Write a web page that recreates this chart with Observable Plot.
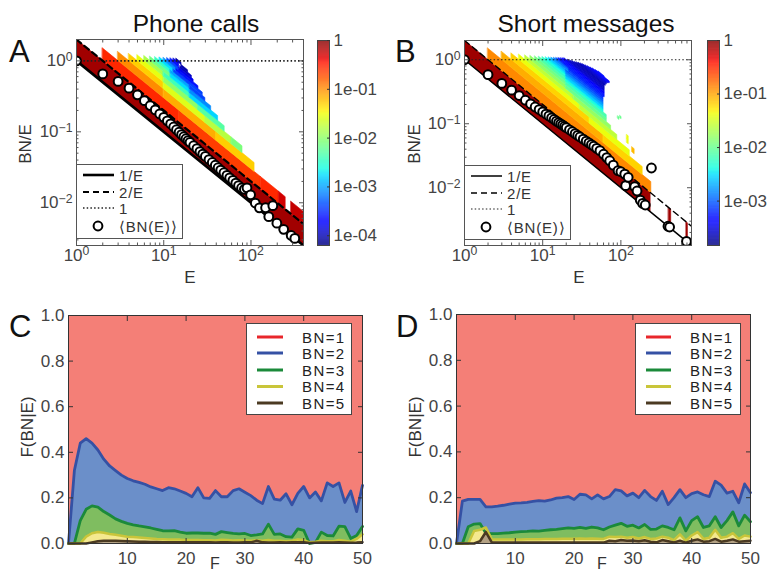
<!DOCTYPE html>
<html><head><meta charset="utf-8">
<script src="https://cdn.jsdelivr.net/npm/d3@7"></script>
<script src="https://cdn.jsdelivr.net/npm/@observablehq/plot@0.6"></script>
<style>
body{margin:0;background:#fff;}
#root{position:relative;width:767px;height:574px;overflow:hidden;background:#fff;font-family:"Liberation Sans",Arial,sans-serif;}
</style></head>
<body><div id="root"></div>
<script>
// ---------------- DATA ----------------
// Panel A (phone calls): heat-map cells, one row per band segment: BN level, E start, E end, log10 P(BN|E)
const phoneSegBN   = [1, 2,2,2,2,2, 3,3,3, 4,4,4,4, 5,5,5, 6,6,6, 7,7,7, 8,8,8, 9,9, 10,10, 11,11, 12,12, 13,13, 14];
const phoneSegE0   = [1, 2,15,130,210,290, 3,10,40, 4,10,30,60, 5,10,25, 6,10,20, 7,12,20, 8,12,20, 9,13, 10,14, 11,15, 12,15.5, 13,16, 14];
const phoneSegE1   = [400, 15,130,210,250,400, 10,40,110, 10,30,60,80, 10,25,50, 10,20,42, 12,20,35, 12,20,30, 13,28, 14,25, 15,22, 15,21, 15,19, 16];
const phoneSegLogP = [-0.12, -0.55,-0.65,-0.55,-0.3,-0.25, -1.0,-1.15,-1.3, -1.3,-1.6,-1.8,-2.1, -1.55,-2.0,-2.3, -1.85,-2.4,-2.8, -2.15,-2.75,-3.1, -2.45,-3.0,-3.4, -2.75,-3.4, -3.05,-3.6, -3.35,-3.8, -3.6,-3.95, -3.85,-4.05, -4.05];
// Panel A mean BN per E
const phoneMeanE  = [1,2,3,4,5,6,7,8,9,10,11,12,13,14,15,16,17,18,19,20,22,24,26,28,30,33,36,39,42,45,49,53,57,62,67,72,78,84,90,99,112,125,147,160,178,198,237,289,318];
const phoneMeanBN = [1,1.31,1.54,1.65,1.66,1.65,1.64,1.63,1.61,1.6,1.57,1.55,1.52,1.5,1.48,1.46,1.45,1.44,1.43,1.42,1.4,1.39,1.37,1.36,1.35,1.34,1.33,1.32,1.31,1.3,1.3,1.29,1.28,1.28,1.27,1.26,1.26,1.3,1.46,1.28,1.11,1.06,1.25,1.02,1.62,1.02,1.0,1.0,1.0];

// Panel B (short messages)
const smsSegBN   = [1,1,1, 2, 3,3, 4,4, 5,5,5, 6,6,6, 7,7,7, 8,8, 9,9, 10,10, 11,11,11, 12,12,12, 13,13, 14,14, 15,15, 16,17,18,19,20,21,22,23,24,25,26,27,28,29,30,31,32,33];
const smsSegE0   = [1,410,690, 2, 3,60, 4,40, 5,30,140, 6,25,120, 7,20,120, 8,20, 9,20, 10,20, 11,20,92, 12,20,98, 13,20, 14,22, 15,22, 16,17,18,19,21,22.5,24,26,27.5,29,31,33,35.5,38,41,44,48,52];
const smsSegE1   = [240,440,720, 245, 60,190, 40,130, 30,90,150, 25,75,126, 20,66,126, 20,66, 20,60, 20,60, 20,60,96, 20,60,102, 20,60, 22,60, 22,60, 62,62,62,62,62,62,62,62,62,64,64,66,66,68,70,72,72,62];
const smsSegLogP = [-0.1,-0.1,-0.1, -0.9, -1.05,-1.2, -1.2,-1.4, -1.4,-1.6,-1.1, -1.6,-1.8,-1.4, -1.8,-2.0,-1.4, -1.95,-2.15, -2.1,-2.35, -2.25,-2.55, -2.4,-2.7,-2.0, -2.55,-2.85,-2.0, -2.7,-3.0, -2.85,-3.1, -3.0,-3.2, -3.25,-3.3,-3.4,-3.45,-3.55,-3.6,-3.6,-3.65,-3.65,-3.65,-3.6,-3.6,-3.55,-3.5,-3.45,-3.4,-3.35,-3.3];
const smsMeanE  = [1,2,3,4,5,6,7,8,9,10,11,12,13,14,15,16,17,18,19,20,22,24,26,28,30,33,36,39,42,45,49,54,60,66,72,80,92,100,112,115,124,150,161,177,190,205,246,400,420,690];
const smsMeanBN = [1,1.17,1.28,1.34,1.38,1.4,1.43,1.46,1.5,1.53,1.56,1.59,1.61,1.63,1.65,1.67,1.69,1.71,1.72,1.74,1.77,1.8,1.82,1.84,1.86,1.9,1.93,1.96,1.98,2.0,2.02,2.05,2.0,1.95,1.9,1.8,1.7,1.78,1.83,1.24,1.8,1.56,1.43,1.13,1.08,1.1,5.0,1.0,1.02,1.0];

// Panels C and D: cumulative fractions (top of each stacked layer) vs F = 0..50
const callsTopBN2 = [0,0.32,0.44,0.46,0.44,0.41,0.37,0.34,0.32,0.30, 0.285,0.275,0.268,0.26,0.248,0.24,0.232,0.245,0.24,0.23, 0.22,0.205,0.245,0.2,0.198,0.232,0.205,0.205,0.232,0.24, 0.225,0.21,0.19,0.175,0.25,0.195,0.19,0.218,0.17,0.22, 0.25,0.2,0.226,0.187,0.266,0.25,0.266,0.18,0.23,0.14,0.255];
const callsTopBN3 = [0,0,0.10,0.15,0.165,0.16,0.14,0.125,0.108,0.097, 0.088,0.082,0.077,0.073,0.068,0.062,0.056,0.055,0.056,0.05, 0.045,0.046,0.046,0.045,0.045,0.04,0.052,0.048,0.044,0.042, 0.044,0.035,0.038,0.042,0.085,0.04,0.042,0.03,0.028,0.064, 0.058,0.0,0.005,0.05,0.035,0.033,0.076,0.074,0.022,0.035,0.075];
const callsTopBN4 = [0,0,0,0.03,0.045,0.05,0.047,0.042,0.038,0.034, 0.03,0.028,0.026,0.024,0.022,0.02,0.019,0.018,0.018,0.017, 0.015,0.015,0.015,0.014,0.014,0.013,0.016,0.015,0.013,0.014, 0.013,0.012,0.014,0.012,0.015,0.012,0.012,0.01,0.012,0.018, 0.015,0.005,0.008,0.012,0.01,0.01,0.015,0.012,0.008,0.02,0.04];
const callsTopBN5 = [0,0,0,0,0.005,0.01,0.012,0.012,0.012,0.011, 0.01,0.009,0.008,0.008,0.007,0.007,0.006,0.006,0.006,0.005, 0.005,0.005,0.005,0.005,0.005,0.004,0.005,0.005,0.004,0.004, 0.005,0.005,0.012,0.005,0.004,0.004,0.005,0.004,0.005,0.006, 0.005,0.002,0.003,0.004,0.004,0.004,0.005,0.004,0.003,0.004,0.006];

const smsTopBN2 = [0,0.185,0.193,0.193,0.193,0.16,0.16,0.163,0.167,0.172, 0.176,0.177,0.18,0.184,0.187,0.185,0.19,0.198,0.2,0.205, 0.192,0.215,0.212,0.195,0.212,0.195,0.205,0.235,0.23,0.208, 0.22,0.2,0.232,0.205,0.188,0.228,0.17,0.2,0.235,0.2, 0.218,0.225,0.213,0.205,0.272,0.255,0.22,0.228,0.178,0.26,0.222];
const smsTopBN3 = [0,0,0.073,0.085,0.087,0.045,0.043,0.043,0.045,0.047, 0.05,0.052,0.053,0.055,0.054,0.057,0.06,0.062,0.065,0.068, 0.066,0.07,0.066,0.072,0.068,0.06,0.072,0.08,0.088,0.075, 0.08,0.068,0.083,0.062,0.063,0.077,0.07,0.06,0.112,0.055, 0.1,0.117,0.07,0.077,0.117,0.07,0.1,0.138,0.077,0.124,0.095];
const smsTopBN4 = [0,0,0,0.055,0.06,0.07,0.018,0.017,0.017,0.018, 0.018,0.018,0.019,0.019,0.019,0.02,0.02,0.02,0.021,0.021, 0.021,0.022,0.021,0.022,0.021,0.02,0.03,0.028,0.03,0.025, 0.028,0.022,0.028,0.02,0.022,0.03,0.025,0.015,0.04,0.012, 0.035,0.05,0.02,0.025,0.06,0.025,0.03,0.045,0.02,0.035,0.03];
const smsTopBN5 = [0,0,0,0,0.01,0.05,0.005,0.004,0.004,0.004, 0.004,0.004,0.004,0.004,0.004,0.004,0.004,0.004,0.004,0.004, 0.004,0.004,0.004,0.004,0.004,0.004,0.012,0.01,0.015,0.012, 0.013,0.01,0.014,0.008,0.005,0.015,0.01,0.005,0.012,0.004, 0.012,0.018,0.008,0.01,0.02,0.008,0.012,0.018,0.008,0.01,0.012];

// tick labels
const logMajorX = [1, 10, 100];
const logMajorXLabels = ["10^0", "10^1", "10^2"];
const logMajorY = [0.01, 0.1, 1];
const logMajorYLabels = ["10^\u22122", "10^\u22121", "10^0"];
const cbarTicks = [0, -1, -2, -3, -4];
const cbarLabels = ["1", "1e-01", "1e-02", "1e-03", "1e-04"];
const fracTicksX = [10, 20, 30, 40, 50];
const fracTicksY = [0, 0.2, 0.4, 0.6, 0.8, 1.0];
const legendBN = ["BN=1", "BN=2", "BN=3", "BN=4", "BN=5"];

// ---------------- STYLE HELPERS ----------------
function jet(t) {
  t = Math.max(0, Math.min(1, t));
  const pw = (pts) => {
    for (let i = 1; i < pts.length; i++) {
      if (t <= pts[i][0]) {
        const [x0, y0] = pts[i - 1], [x1, y1] = pts[i];
        return y0 + (y1 - y0) * (t - x0) / (x1 - x0);
      }
    }
    return pts[pts.length - 1][1];
  };
  const r = pw([[0,0],[0.35,0],[0.66,1],[0.89,1],[1,0.5]]);
  const g = pw([[0,0],[0.125,0],[0.375,1],[0.64,1],[0.91,0],[1,0]]);
  const b = pw([[0,0.5],[0.11,1],[0.34,1],[0.65,0],[1,0]]);
  return `rgb(${Math.round(r*255)},${Math.round(g*255)},${Math.round(b*255)})`;
}
const FONT = '"Liberation Sans", Arial, sans-serif';
const plotStyle = {fontFamily: FONT, fontSize: "17px", color: "#444", background: "none", overflow: "visible"};
const root = document.getElementById("root");
function place(node, left, top) {
  node.style.position = "absolute"; node.style.left = left + "px"; node.style.top = top + "px";
  root.appendChild(node);
}
function supers(svg) {
  svg.querySelectorAll("text").forEach(t => {
    const s = t.textContent;
    if (s.includes("^")) {
      const [b, e] = s.split("^");
      t.textContent = b;
      const ts = document.createElementNS("http://www.w3.org/2000/svg", "tspan");
      ts.setAttribute("dy", "-0.45em"); ts.setAttribute("font-size", "0.72em");
      ts.textContent = e; t.appendChild(ts);
    }
  });
}
function cells(bn, e0, e1, lp) {
  const out = [];
  bn.forEach((k, i) => {
    out.push({id: i, E: e0[i], lo: k / e0[i], hi: (k + 1) / e0[i], c: lp[i]});
    out.push({id: i, E: e1[i], lo: k / e1[i], hi: (k + 1) / e1[i], c: lp[i]});
  });
  return out;
}
function minorTicks(lo, hi) {
  const out = [];
  for (let p = Math.floor(Math.log10(lo)); p <= Math.ceil(Math.log10(hi)); p++)
    for (let m = 2; m <= 9; m++) { const v = m * Math.pow(10, p); if (v >= lo && v <= hi) out.push(v); }
  return out;
}

function heatPanel({segBN, segE0, segE1, segLogP, meanE, meanBN, xMax, yMin, cmin, thick}) {
  const data = cells(segBN, segE0, segE1, segLogP);
  const guide = [1, xMax];
  const means = meanE.map((e, i) => ({E: e, y: meanBN[i] / e}));
  const fmtX = d => logMajorXLabels[logMajorX.indexOf(d)];
  const fmtY = d => logMajorYLabels[logMajorY.indexOf(d)];
  return {
    x: {type: "log", domain: [1, xMax], label: null},
    y: {type: "log", domain: [yMin, 2], label: null},
    color: {type: "linear", domain: [cmin, 0], interpolate: jet},
    style: plotStyle,
    marks: [
      Plot.areaY(data, {x: "E", y1: "lo", y2: "hi", z: "id", fill: "c", stroke: "c", strokeWidth: 0.6, clip: true}),
      Plot.ruleY([1], {stroke: "#222", strokeWidth: thick ? 1.6 : 1.2, strokeDasharray: "1.5 2.2"}),
      Plot.line(guide, {x: d => d, y: d => 2 / d, stroke: "#000", strokeWidth: thick ? 2.2 : 1.4, strokeDasharray: "6 4", clip: true}),
      Plot.line(guide, {x: d => d, y: d => 1 / d, stroke: "#000", strokeWidth: thick ? 2.6 : 1.5, clip: true}),
      Plot.dot(means, {x: "E", y: "y", r: 4.4, fill: "#fff", stroke: "#000", strokeWidth: 2, clip: true}),
      Plot.frame({stroke: "#555"}),
      Plot.axisX({ticks: logMajorX, tickFormat: fmtX, tickSize: 0, tickPadding: 3, label: null}),
      Plot.axisX({ticks: logMajorX, tickFormat: () => "", tickSize: -5, label: null, stroke: "#555"}),
      Plot.axisX({ticks: logMajorX, tickFormat: () => "", tickSize: -5, anchor: "top", label: null, stroke: "#555"}),
      Plot.axisX({ticks: minorTicks(1, xMax), tickFormat: () => "", tickSize: -2.5, label: null, stroke: "#555"}),
      Plot.axisX({ticks: minorTicks(1, xMax), tickFormat: () => "", tickSize: -2.5, anchor: "top", label: null, stroke: "#555"}),
      Plot.axisY({ticks: logMajorY, tickFormat: fmtY, tickSize: 0, tickPadding: 4, label: null}),
      Plot.axisY({ticks: logMajorY, tickFormat: () => "", tickSize: -5, label: null, stroke: "#555"}),
      Plot.axisY({ticks: logMajorY, tickFormat: () => "", tickSize: -5, anchor: "right", label: null, stroke: "#555"}),
      Plot.axisY({ticks: minorTicks(yMin, 2), tickFormat: () => "", tickSize: -2.5, label: null, stroke: "#555"}),
      Plot.axisY({ticks: minorTicks(yMin, 2), tickFormat: () => "", tickSize: -2.5, anchor: "right", label: null, stroke: "#555"})
    ]
  };
}

function colorbar(cmin) {
  const ramp = d3.range(cmin, 0, 0.01).map(v => ({v, a: 0, b: 1}));
  return Plot.plot({
    width: 70, height: 290, marginLeft: 7, marginRight: 51, marginTop: 40, marginBottom: 45,
    x: {domain: [0, 1], axis: null},
    y: {domain: [cmin, 0], label: null},
    color: {type: "linear", domain: [cmin, 0], interpolate: jet},
    style: plotStyle,
    marks: [
      Plot.rect(ramp, {x1: "a", x2: "b", y1: "v", y2: d => Math.min(0, d.v + 0.012), fill: "v"}),
      Plot.frame({stroke: "#444"}),
      Plot.axisY({anchor: "right", ticks: cbarTicks.filter(v => v >= cmin), tickFormat: d => cbarLabels[cbarTicks.indexOf(d)], tickSize: 0, tickPadding: 4, label: null}),
      Plot.axisY({anchor: "right", ticks: cbarTicks.filter(v => v >= cmin), tickFormat: () => "", tickSize: -3, label: null, stroke: "#333"})
    ]
  });
}

function fracPanel(top2, top3, top4, top5, ml, mr, mt) {
  const rows = top2.map((v, i) => ({F: i, t2: v, t3: top3[i], t4: top4[i], t5: top5[i], zero: 0, one: 1}));
  return Plot.plot({
    width: ml + mr + 294, height: 284, marginLeft: ml, marginRight: mr, marginTop: mt, marginBottom: 31,
    x: {domain: [0, 50], label: null},
    y: {domain: [0, 1], label: null},
    style: plotStyle,
    marks: [
      Plot.areaY(rows, {x: "F", y1: "t2", y2: "one", fill: "#f47f77"}),
      Plot.areaY(rows, {x: "F", y1: "zero", y2: "t2", fill: "#6b8fc9"}),
      Plot.areaY(rows, {x: "F", y1: "zero", y2: "t3", fill: "#7fbd60"}),
      Plot.areaY(rows, {x: "F", y1: "zero", y2: "t4", fill: "#f4e98f"}),
      Plot.areaY(rows, {x: "F", y1: "zero", y2: "t5", fill: "#b3a184"}),
      Plot.line(rows, {x: "F", y: "t2", stroke: "#3551a4", strokeWidth: 2.8}),
      Plot.line(rows, {x: "F", y: "t3", stroke: "#1b8a3a", strokeWidth: 2.8}),
      Plot.line(rows, {x: "F", y: "t4", stroke: "#c9c53a", strokeWidth: 2.5}),
      Plot.line(rows, {x: "F", y: "t5", stroke: "#4b3a22", strokeWidth: 2.5}),
      Plot.frame({stroke: "#333"}),
      Plot.axisX({ticks: fracTicksX, tickSize: 0, tickPadding: 8, label: null}),
      Plot.axisX({ticks: fracTicksX, tickFormat: () => "", tickSize: -5, label: null, stroke: "#333"}),
      Plot.axisX({ticks: fracTicksX, tickFormat: () => "", tickSize: -5, anchor: "top", label: null, stroke: "#333"}),
      Plot.axisY({ticks: fracTicksY, tickFormat: d3.format(".1f"), tickSize: 0, tickPadding: 4, label: null}),
      Plot.axisY({ticks: fracTicksY, tickFormat: () => "", tickSize: -5, label: null, stroke: "#333"}),
      Plot.axisY({ticks: fracTicksY, tickFormat: () => "", tickSize: -5, anchor: "right", label: null, stroke: "#333"})
    ]
  });
}

// ---------------- BUILD ----------------
const plotA = Plot.plot({width: 310, height: 290, marginLeft: 76, marginRight: 7, marginTop: 39, marginBottom: 45,
  ...heatPanel({segBN: phoneSegBN, segE0: phoneSegE0, segE1: phoneSegE1, segLogP: phoneSegLogP,
    meanE: phoneMeanE, meanBN: phoneMeanBN, xMax: 400, yMin: 1/400, cmin: -4.2, thick: true})});
supers(plotA); place(plotA, 0, 0);
place(colorbar(-4.2), 310, 0);

const plotB = Plot.plot({width: 310, height: 290, marginLeft: 80, marginRight: 3, marginTop: 40, marginBottom: 45,
  ...heatPanel({segBN: smsSegBN, segE0: smsSegE0, segE1: smsSegE1, segLogP: smsSegLogP,
    meanE: smsMeanE, meanBN: smsMeanBN, xMax: 800, yMin: 1/800, cmin: -3.83, thick: false})});
supers(plotB); place(plotB, 384, 0);
place(colorbar(-3.83), 700, 0);

place(fracPanel(callsTopBN2, callsTopBN3, callsTopBN4, callsTopBN5, 68, 22, 25), 0, 290);
place(fracPanel(smsTopBN2, smsTopBN3, smsTopBN4, smsTopBN5, 72, 17, 24), 384, 290);

// ---------------- TEXT / LEGENDS OVERLAY ----------------
const legColors = ["#e8262b", "#3551a4", "#1b8a3a", "#c9c53a", "#4b3a22"];
const LF = 15;
function bnLegend(x, y, lx0, lx1, tx) {
  const rows = [14, 30, 47, 63.5, 80];
  return `<g><rect x="${x+0.5}" y="${y+0.5}" width="105" height="91" fill="#fff" stroke="#444"/>` +
    legendBN.map((s, i) => `<line x1="${x+lx0}" x2="${x+lx1}" y1="${y+rows[i]}" y2="${y+rows[i]}" stroke="${legColors[i]}" stroke-width="3"/>` +
      `<text x="${x+tx}" y="${y+rows[i]+5.5}" font-size="${LF}" fill="#222" letter-spacing="1.4">${s}</text>`).join("") + `</g>`;
}
function lineLegend(x, y, thick) {
  const w1 = thick ? 2.6 : 1.5, w2 = thick ? 2.2 : 1.4, w3 = thick ? 1.6 : 1.2;
  return `<g><rect x="${x+0.5}" y="${y+0.5}" width="106" height="74" fill="#fff" stroke="#555"/>
   <line x1="${x+7}" x2="${x+38}" y1="${y+11}" y2="${y+11}" stroke="#000" stroke-width="${w1}"/>
   <text x="${x+43}" y="${y+16.5}" font-size="${LF}" fill="#333" letter-spacing="0.8">1/E</text>
   <line x1="${x+7}" x2="${x+38}" y1="${y+28}" y2="${y+28}" stroke="#000" stroke-width="${w2}" stroke-dasharray="6 4"/>
   <text x="${x+43}" y="${y+33.5}" font-size="${LF}" fill="#333" letter-spacing="0.8">2/E</text>
   <line x1="${x+7}" x2="${x+38}" y1="${y+44}" y2="${y+44}" stroke="#222" stroke-width="${w3}" stroke-dasharray="1.5 2.2"/>
   <text x="${x+43}" y="${y+49.5}" font-size="${LF}" fill="#333">1</text>
   <circle cx="${x+22}" cy="${y+62}" r="4.4" fill="#fff" stroke="#000" stroke-width="2"/>
   <text x="${x+43}" y="${y+67.5}" font-size="${LF}" fill="#333" letter-spacing="0.8">\u27E8BN(E)\u27E9</text></g>`;
}
const overlay = document.createElement("div");
overlay.innerHTML = `<svg width="767" height="574" xmlns="http://www.w3.org/2000/svg" style="font-family:${FONT.replace(/"/g, "'")}">
  <text x="196" y="32" text-anchor="middle" font-size="24.5" fill="#111">Phone calls</text>
  <text x="586" y="32" text-anchor="middle" font-size="24.5" fill="#111">Short messages</text>
  <text x="9" y="62" font-size="31" fill="#111">A</text>
  <text x="395" y="62" font-size="31" fill="#111">B</text>
  <text x="9" y="337" font-size="31" fill="#111">C</text>
  <text x="396" y="337" font-size="31" fill="#111">D</text>
  <text transform="translate(31,144) rotate(-90)" text-anchor="middle" font-size="17" fill="#333">BN/E</text>
  <text transform="translate(420,144) rotate(-90)" text-anchor="middle" font-size="17" fill="#333">BN/E</text>
  <text x="190" y="283" text-anchor="middle" font-size="17" fill="#333">E</text>
  <text x="579" y="283" text-anchor="middle" font-size="17" fill="#333">E</text>
  <text transform="translate(33,427) rotate(-90)" text-anchor="middle" font-size="17" fill="#333">F(BN|E)</text>
  <text transform="translate(421,427) rotate(-90)" text-anchor="middle" font-size="17" fill="#333">F(BN|E)</text>
  <text x="215" y="569" text-anchor="middle" font-size="16" fill="#333">F</text>
  <text x="602" y="569" text-anchor="middle" font-size="16" fill="#333">F</text>
  ${lineLegend(76, 164, true)}
  ${lineLegend(464, 165, false)}
  ${bnLegend(246, 323, 11, 37, 56)}
  ${bnLegend(635, 323, 11, 36, 55)}
</svg>`;
overlay.style.pointerEvents = "none";
place(overlay, 0, 0);
</script>
</body></html>
